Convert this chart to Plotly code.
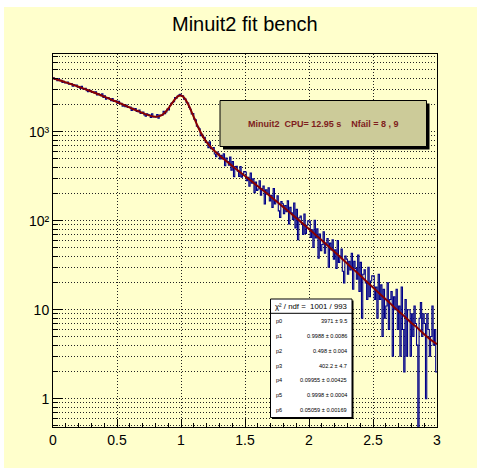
import plotly.graph_objects as go

# ---------------- data ----------------
title_text = "Minuit2 fit bench"
pave_text = "Minuit2\u00a0\u00a0CPU= 12.95 s\u00a0\u00a0\u00a0\u00a0Nfail = 8 , 9"
chi2_text = "\u03c7\u00b2 / ndf =\u00a0\u00a01001 / 993"
stat_names = ["p0", "p1", "p2", "p3", "p4", "p5", "p6"]
stat_values = ["3971 \u00b1 9.5", "0.9988 \u00b1 0.0086", "0.498 \u00b1 0.004",
               "402.2 \u00b1 4.7", "0.09955 \u00b1 0.00425", "0.9998 \u00b1 0.0004",
               "0.05059 \u00b1 0.00169"]

x_tickvals = [0, 0.5, 1, 1.5, 2, 2.5, 3]
x_ticktext = ["0", "0.5", "1", "1.5", "2", "2.5", "3"]
y_tickvals = [1, 10, 100, 1000]
y_ticktext = ["1", "10", "10\u00b2", "10\u00b3"]

# histogram: bin contents (bins of equal width covering 0..3)
hist_counts = [
    4032, 3867, 3894, 3743, 3920, 3737, 3777, 3565, 3680, 3537,
    3536, 3624, 3410, 3457, 3470, 3243, 3374, 3289, 3351, 3169,
    3201, 3053, 3229, 3025, 3033, 3065, 2891, 2810, 2929, 2877,
    2760, 2805, 2723, 2799, 2580, 2684, 2608, 2533, 2658, 2426,
    2534, 2313, 2418, 2404, 2318, 2235, 2351, 2191, 2217, 2225,
    2073, 2200, 2062, 2091, 1935, 2019, 1914, 1989, 1872, 1894,
    1898, 1736, 1829, 1771, 1816, 1688, 1680, 1748, 1601, 1639,
    1661, 1544, 1494, 1584, 1555, 1536, 1448, 1590, 1463, 1484,
    1465, 1558, 1418, 1542, 1533, 1531, 1699, 1588, 1665, 1800,
    1753, 1968, 2080, 2132, 2179, 2427, 2380, 2511, 2588, 2628,
    2527, 2538, 2314, 2325, 2124, 2102, 1876, 1786, 1582, 1596,
    1384, 1359, 1155, 1124, 1075, 904, 935, 860, 866, 756,
    762, 663, 771, 644, 645, 664, 562, 522, 591, 565,
    494, 543, 493, 566, 414, 505, 462, 419, 520, 370,
    462, 313, 405, 408, 359, 314, 407, 309, 339, 356,
    352, 282, 307, 244, 342, 264, 295, 207, 272, 218,
    227, 281, 194, 228, 245, 154, 223, 199, 234, 167,
    193, 141, 229, 154, 166, 191, 129, 109, 164, 155,
    120, 148, 126, 167, 92, 141, 123, 103, 158, 83,
    134, 61, 108, 113, 91, 70, 119, 72, 89, 100,
    99, 65, 79, 50, 101, 64, 81, 38, 71, 46,
    54, 75, 43, 56, 63, 30, 56, 47, 61, 37,
    47, 29, 60, 34, 40, 48, 27, 20, 40, 37,
    25, 35, 28, 43, 17, 35, 29, 22, 41, 16,
    34, 8, 25, 28, 20, 13, 30, 14, 21, 24,
    24, 13, 18, 8, 25, 13, 19, 5, 17, 8,
    11, 20, 6, 13, 16, 3, 14, 10, 17, 6,
    11, 3, 18, 6, 2, 13, 3, 10, 10, 3,
    9, 5, 11, 7, 4, 0, 8, 12, 5, 9,
    7, 1, 9, 6, 3, 5, 11, 4, 6, 2,
]

# fitted function
fit_x = [0.0, 0.05, 0.10, 0.15, 0.20, 0.25, 0.30, 0.35, 0.40, 0.45, 0.50, 0.55,
         0.60, 0.65, 0.70, 0.75, 0.80, 0.825, 0.85, 0.875, 0.90, 0.925, 0.95,
         0.975, 1.0, 1.025, 1.05, 1.075, 1.1, 1.125, 1.15, 1.175, 1.2, 1.25, 1.3,
         1.35, 1.4, 1.45, 1.5, 1.55, 1.6, 1.65, 1.7, 1.75, 1.8, 1.85, 1.9, 1.95,
         2.0, 2.05, 2.1, 2.15, 2.2, 2.25, 2.3, 2.35, 2.4, 2.45, 2.5, 2.55, 2.6,
         2.65, 2.7, 2.75, 2.8, 2.85, 2.9, 2.95, 3.0]
fit_y = [3978, 3781, 3585, 3390, 3199, 3012, 2829, 2651, 2479, 2313, 2156, 2006,
         1866, 1737, 1620, 1526, 1476, 1487, 1539, 1645, 1814, 2039, 2291,
         2496, 2554, 2407, 2114, 1773, 1459, 1200, 1005, 863, 762, 630, 541,
         472, 413, 362, 318, 279, 244, 214, 187, 163, 142, 123.7, 107.5, 93.3,
         80.7, 69.7, 60.2, 51.9, 44.6, 38.3, 32.9, 28.2, 24.2, 20.8, 17.8, 15.2, 13.1,
         11.2, 9.6, 8.3, 7.1, 6.2, 5.3, 4.6, 4.1]

X_MIN, X_MAX = 0.0, 3.0

# ---------------- layout helpers ----------------
W, H = 483, 472
ML, MR, MT, MB = 53, 46, 54, 45
PW, PH = W - ML - MR, H - MT - MB


def px(xp):
    return (xp - ML) / PW


def py(yp):
    return (H - MB - yp) / PH


FONT = "Liberation Sans, Arial, Helvetica, sans-serif"
BG = "#ffffcc"

nb = len(hist_counts)
bw = (X_MAX - X_MIN) / nb
edges = [X_MIN + i * bw for i in range(nb)] + [X_MAX]
hist_plot = [c if c > 0 else 1e-3 for c in hist_counts]
hist_plot = hist_plot + [hist_plot[-1]]

fig = go.Figure()
fig.add_trace(go.Scatter(x=edges, y=hist_plot, mode="lines",
                         line=dict(color="#000088", width=1.1, shape="hv"),
                         hoverinfo="skip", showlegend=False))
fig.add_trace(go.Scatter(x=fit_x, y=fit_y, mode="lines",
                         line=dict(color="#880000", width=2, shape="spline", smoothing=0.8),
                         hoverinfo="skip", showlegend=False))

y_minor = [m * 10 ** k for k in range(-1, 4) for m in range(2, 10)]
y_minor = [v for v in y_minor if 0.48 < v < 7460]

grid_dash = "1px,2px"
grid_col = "#222222"
fig.update_xaxes(range=[X_MIN, X_MAX], tickmode="array", tickvals=x_tickvals,
                 ticktext=x_ticktext, ticks="inside", ticklen=8, tickcolor="black",
                 showgrid=True, gridcolor=grid_col, gridwidth=1, griddash=grid_dash,
                 minor=dict(tick0=0, dtick=0.1, ticks="inside", ticklen=4,
                            tickcolor="black", showgrid=False),
                 showline=True, linecolor="black", linewidth=1, mirror=True,
                 zeroline=False, tickfont=dict(family=FONT, size=14, color="black"))
fig.update_yaxes(type="log", range=[-0.318, 3.873], tickmode="array",
                 tickvals=y_tickvals, ticktext=y_ticktext, ticks="inside",
                 ticklen=10, tickcolor="black", showgrid=True, gridcolor=grid_col,
                 gridwidth=1, griddash=grid_dash,
                 minor=dict(tickmode="array", tickvals=y_minor, ticks="inside",
                            ticklen=5, tickcolor="black", showgrid=True,
                            gridcolor=grid_col, gridwidth=1, griddash=grid_dash),
                 showline=True, linecolor="black", linewidth=1, mirror=True,
                 zeroline=False, tickfont=dict(family=FONT, size=14, color="black"))

shapes = []
# canvas fill
shapes.append(dict(type="rect", xref="paper", yref="paper",
                   x0=px(4), x1=px(477), y0=py(468), y1=py(7),
                   fillcolor=BG, line=dict(width=0), layer="below"))
# info pave (shadow + box)
shapes.append(dict(type="rect", xref="paper", yref="paper",
                   x0=px(223), x1=px(429.5), y0=py(149.5), y1=py(103.5),
                   fillcolor="black", line=dict(width=0)))
shapes.append(dict(type="rect", xref="paper", yref="paper",
                   x0=px(220), x1=px(426.5), y0=py(146.5), y1=py(100.5),
                   fillcolor="#cccb99", line=dict(color="black", width=1)))
# stats box (shadow + box + separator)
shapes.append(dict(type="rect", xref="paper", yref="paper",
                   x0=px(272), x1=px(353.5), y0=py(419), y1=py(300.5),
                   fillcolor="black", line=dict(width=0)))
shapes.append(dict(type="rect", xref="paper", yref="paper",
                   x0=px(270.5), x1=px(352), y0=py(417.5), y1=py(299),
                   fillcolor="white", line=dict(color="black", width=1)))
shapes.append(dict(type="line", xref="paper", yref="paper",
                   x0=px(270.5), x1=px(352), y0=py(313.3), y1=py(313.3),
                   line=dict(color="black", width=1)))

annotations = []
annotations.append(dict(text=title_text, x=px(244.5), y=py(24), xref="paper",
                        yref="paper", showarrow=False, xanchor="center",
                        yanchor="middle", font=dict(family=FONT, size=20, color="black")))
annotations.append(dict(text="<b>" + pave_text + "</b>", x=px(323.3), y=py(124),
                        xref="paper", yref="paper", showarrow=False,
                        xanchor="center", yanchor="middle",
                        font=dict(family=FONT, size=9, color="#7f1d1d")))
annotations.append(dict(text=chi2_text, x=px(311), y=py(306), xref="paper",
                        yref="paper", showarrow=False, xanchor="center",
                        yanchor="middle", font=dict(family=FONT, size=7.8, color="black")))
for i, (nm, val) in enumerate(zip(stat_names, stat_values)):
    yy = py(321.3 + i * 14.78)
    annotations.append(dict(text=nm, x=px(273.5), y=yy, xref="paper", yref="paper",
                            showarrow=False, xanchor="left", yanchor="middle",
                            font=dict(family=FONT, size=5.6, color="black")))
    annotations.append(dict(text=val, x=px(348.5), y=yy, xref="paper", yref="paper",
                            showarrow=False, xanchor="right", yanchor="middle",
                            font=dict(family=FONT, size=5.6, color="black")))

fig.update_layout(width=W, height=H, margin=dict(l=ML, r=MR, t=MT, b=MB),
                  paper_bgcolor="white", plot_bgcolor="rgba(0,0,0,0)",
                  shapes=shapes, annotations=annotations, showlegend=False,
                  font=dict(family=FONT))

fig.write_html("out.html")
